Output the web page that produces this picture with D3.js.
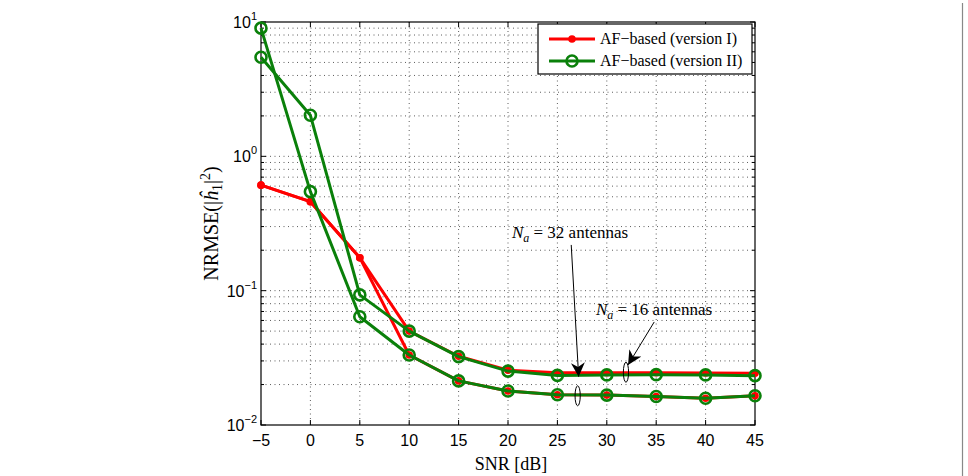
<!DOCTYPE html>
<html>
<head>
<meta charset="utf-8">
<script src="https://cdn.jsdelivr.net/npm/d3@7"></script>
<style>
  body { margin: 0; background: #fff; }
  .tick-label { font-family: "Liberation Sans", Arial, sans-serif; font-size: 16px; }
  .serif { font-family: "Liberation Serif", "Times New Roman", serif; }
</style>
</head>
<body>
<script>
// data
var snr = [-5, 0, 5, 10, 15, 20, 25, 30, 35, 40, 45];
var v1_16 = [0.61, 0.46, 0.176, 0.050, 0.0325, 0.0256, 0.0245, 0.0245, 0.0245, 0.0244, 0.0243];
var v1_32 = [0.61, 0.46, 0.176, 0.0332, 0.0213, 0.0179, 0.0168, 0.0167, 0.0163, 0.0158, 0.0165];
var v2_16 = [5.46, 2.02, 0.093, 0.050, 0.0323, 0.0252, 0.0234, 0.0236, 0.0237, 0.0236, 0.0233];
var v2_32 = [9.0, 0.546, 0.064, 0.0332, 0.0213, 0.0179, 0.0168, 0.0167, 0.0163, 0.0158, 0.0165];
var xTicks = [-5, 0, 5, 10, 15, 20, 25, 30, 35, 40, 45];
var yDecades = [-2, -1, 0, 1];
var legendLabels = ["AF\u2212based (version I)", "AF\u2212based (version II)"];

var margin = { top: 22, right: 213, bottom: 51, left: 261 };
var W = 968, H = 476;
var width = W - margin.left - margin.right;
var height = H - margin.top - margin.bottom;

var red = "#ff0000", green = "#0a800a";

var root = d3.select("body").append("svg")
    .attr("width", W).attr("height", H);

// right border line of the figure
root.append("line")
    .attr("x1", 962.5).attr("x2", 962.5).attr("y1", 3).attr("y2", H)
    .attr("stroke", "#888").attr("stroke-width", 1.2);

var svg = root.append("g")
    .attr("transform", "translate(" + margin.left + "," + margin.top + ")");

var x = d3.scaleLinear().domain([-5, 45]).range([0, width]);
var y = d3.scaleLog().domain([0.01, 10]).range([height, 0]);

// minor + major y values
var yMinor = [];
for (var e = -2; e < 1; e++) {
    for (var m = 2; m <= 9; m++) yMinor.push(m * Math.pow(10, e));
}
var yMajor = yDecades.map(function (d) { return Math.pow(10, d); });

// grid
var grid = svg.append("g").attr("class", "grid");
grid.selectAll("line.gx").data(xTicks.slice(1, -1)).enter().append("line")
    .attr("x1", function (d) { return x(d); }).attr("x2", function (d) { return x(d); })
    .attr("y1", 0).attr("y2", height)
    .attr("stroke", "#333").attr("stroke-width", 0.8).attr("stroke-dasharray", "1,3.5");
grid.selectAll("line.gy").data(yMinor.concat(yMajor.slice(1, -1))).enter().append("line")
    .attr("x1", 0).attr("x2", width)
    .attr("y1", function (d) { return y(d); }).attr("y2", function (d) { return y(d); })
    .attr("stroke", "#333").attr("stroke-width", 0.8).attr("stroke-dasharray", "1,3.5");

// ticks (inside, on all four sides)
var ticks = svg.append("g").attr("stroke", "#000").attr("stroke-width", 1);
xTicks.forEach(function (t) {
    ticks.append("line").attr("x1", x(t)).attr("x2", x(t)).attr("y1", height).attr("y2", height - 5);
    ticks.append("line").attr("x1", x(t)).attr("x2", x(t)).attr("y1", 0).attr("y2", 5);
});
yMajor.forEach(function (t) {
    ticks.append("line").attr("x1", 0).attr("x2", 5).attr("y1", y(t)).attr("y2", y(t));
    ticks.append("line").attr("x1", width).attr("x2", width - 5).attr("y1", y(t)).attr("y2", y(t));
});
yMinor.forEach(function (t) {
    ticks.append("line").attr("x1", 0).attr("x2", 3).attr("y1", y(t)).attr("y2", y(t));
    ticks.append("line").attr("x1", width).attr("x2", width - 3).attr("y1", y(t)).attr("y2", y(t));
});

// axes box
svg.append("rect").attr("x", 0).attr("y", 0).attr("width", width).attr("height", height)
    .attr("fill", "none").attr("stroke", "#000").attr("stroke-width", 1.2);

// tick labels
svg.selectAll("text.xt").data(xTicks).enter().append("text")
    .attr("class", "tick-label")
    .attr("x", function (d) { return x(d); })
    .attr("y", height + 21)
    .attr("text-anchor", "middle")
    .text(function (d) { return d < 0 ? "\u2212" + (-d) : d; });

var yl = svg.selectAll("text.yt").data(yDecades).enter().append("text")
    .attr("class", "tick-label")
    .attr("x", -4)
    .attr("y", function (d) { return y(Math.pow(10, d)) + 6; })
    .attr("text-anchor", "end");
yl.append("tspan").text("10");
yl.append("tspan").attr("dy", -8).style("font-size", "11px")
    .text(function (d) { return d < 0 ? "\u2212" + (-d) : d; });

// axis labels
svg.append("text").attr("class", "serif")
    .attr("x", x(20.3)).attr("y", height + 45)
    .attr("text-anchor", "middle").style("font-size", "18px")
    .text("SNR [dB]");

var ylab = svg.append("text").attr("class", "serif")
    .attr("transform", "translate(-43," + (height / 2) + ") rotate(-90)")
    .attr("text-anchor", "middle").style("font-size", "20px");
ylab.append("tspan").text("NRMSE(|");
ylab.append("tspan").style("font-style", "italic").text("\u0125");
ylab.append("tspan").attr("dy", 4).style("font-size", "14px").text("1");
ylab.append("tspan").attr("dy", -4).text("|");
ylab.append("tspan").attr("dy", -8).style("font-size", "14px").text("2");
ylab.append("tspan").attr("dy", 8).text(")");

// series
var line = d3.line()
    .x(function (d) { return x(d[0]); })
    .y(function (d) { return y(d[1]); });
function pts(vals) { return snr.map(function (s, i) { return [s, vals[i]]; }); }

var series = [
    { vals: v1_16, color: red, marker: "dot" },
    { vals: v1_32, color: red, marker: "dot" },
    { vals: v2_16, color: green, marker: "circle" },
    { vals: v2_32, color: green, marker: "circle" }
];

var plot = svg.append("g");
series.forEach(function (s) {
    plot.append("path").datum(pts(s.vals))
        .attr("d", line)
        .attr("fill", "none")
        .attr("stroke", s.color)
        .attr("stroke-width", 3)
        .attr("stroke-linejoin", "round");
    var c = plot.selectAll(null).data(pts(s.vals)).enter().append("circle")
        .attr("cx", function (d) { return x(d[0]); })
        .attr("cy", function (d) { return y(d[1]); });
    if (s.marker === "dot") {
        c.attr("r", 3.8).attr("fill", s.color);
    } else {
        c.attr("r", 5.5).attr("fill", "none").attr("stroke", s.color).attr("stroke-width", 2.6);
    }
});

// annotations (positions given in data units)
var defs = root.append("defs");
defs.append("marker").attr("id", "arr")
    .attr("viewBox", "0 0 10 10").attr("refX", 10).attr("refY", 5)
    .attr("markerWidth", 14).attr("markerHeight", 14).attr("markerUnits", "userSpaceOnUse")
    .attr("orient", "auto")
    .append("path").attr("d", "M0,0 L10,5 L0,10 L3,5 Z").attr("fill", "#000");

var notes = [
    { n: "32", tx: 20.4, ty: 0.246, ax0: 26.4, ay0: 0.219, ax1: 27.15, ay1: 0.0229, ex: 27.05, ey: 0.0165 },
    { n: "16", tx: 28.9, ty: 0.0659, ax0: 34.8, ay0: 0.0585, ax1: 32.15, ay1: 0.028, ex: 31.94, ey: 0.0247 }
];
notes.forEach(function (a) {
    var t = svg.append("text").attr("class", "serif")
        .attr("x", x(a.tx)).attr("y", y(a.ty)).style("font-size", "17px");
    t.append("tspan").style("font-style", "italic").text("N");
    t.append("tspan").attr("dy", 4).style("font-size", "12px").style("font-style", "italic").text("a");
    t.append("tspan").attr("dy", -4).text(" = " + a.n + " antennas");
    svg.append("line")
        .attr("x1", x(a.ax0)).attr("y1", y(a.ay0))
        .attr("x2", x(a.ax1)).attr("y2", y(a.ay1))
        .attr("stroke", "#000").attr("stroke-width", 1)
        .attr("marker-end", "url(#arr)");
    svg.append("ellipse")
        .attr("cx", x(a.ex)).attr("cy", y(a.ey))
        .attr("rx", 2.6).attr("ry", 10)
        .attr("fill", "none").attr("stroke", "#000").attr("stroke-width", 1);
});

// legend
var lg = svg.append("g").attr("transform", "translate(" + (width - 217) + ",2)");
lg.append("rect").attr("width", 214).attr("height", 50)
    .attr("fill", "#fff").attr("stroke", "#000").attr("stroke-width", 1.2);
legendLabels.forEach(function (lab, i) {
    var row = lg.append("g").attr("transform", "translate(0," + (15 + i * 22) + ")");
    row.append("line").attr("x1", 11).attr("x2", 57).attr("y1", 0).attr("y2", 0)
        .attr("stroke", i === 0 ? red : green).attr("stroke-width", 3);
    if (i === 0) {
        row.append("circle").attr("cx", 34).attr("cy", 0).attr("r", 3.8).attr("fill", red);
    } else {
        row.append("circle").attr("cx", 34).attr("cy", 0).attr("r", 5.5)
            .attr("fill", "none").attr("stroke", green).attr("stroke-width", 2.6);
    }
    row.append("text").attr("class", "serif")
        .attr("x", 62).attr("y", 5).style("font-size", "16px").text(lab);
});
</script>
</body>
</html>
